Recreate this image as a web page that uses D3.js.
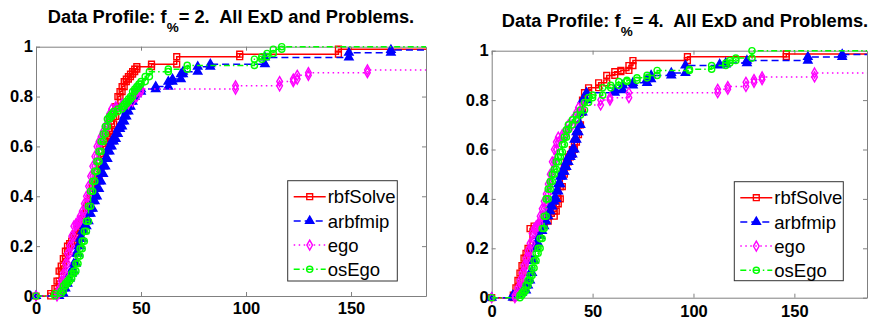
<!DOCTYPE html>
<html>
<head>
<meta charset="utf-8">
<script src="https://cdn.jsdelivr.net/npm/d3@7"></script>
<style>
  body { margin: 0; background: #fff; }
  svg { display: block; }
  text { font-family: "Liberation Sans", Arial, Helvetica, sans-serif; }
</style>
</head>
<body>
<div id="chart"></div>
<script>
// ---- data ----
const seriesNames = ['rbfSolve', 'arbfmip', 'ego', 'osEgo'];
const fValues = ['2', '4'];
const xTicks = [0, 50, 100, 150];
const yTicks = [0, 0.2, 0.4, 0.6, 0.8, 1];
const yTickLabels = ['0', '0.2', '0.4', '0.6', '0.8', '1'];

// f% = 2
const rbfX2 = [0, 7, 9, 10, 11, 12, 13, 14, 15, 16, 17, 18, 19, 20, 21, 22, 23, 24, 25, 26, 27, 28, 29, 30, 31, 32, 33, 34, 35, 36, 37, 38, 39, 40, 41, 42, 43, 44, 45, 46, 47, 48, 55, 67, 97, 144];
const rbfY2 = [0, 0.01, 0.03, 0.06, 0.1, 0.12, 0.15, 0.18, 0.2, 0.21, 0.22, 0.24, 0.25, 0.27, 0.29, 0.31, 0.33, 0.36, 0.38, 0.41, 0.44, 0.46, 0.48, 0.52, 0.56, 0.6, 0.62, 0.64, 0.66, 0.69, 0.72, 0.76, 0.8, 0.82, 0.84, 0.86, 0.87, 0.88, 0.89, 0.9, 0.91, 0.92, 0.93, 0.96, 0.97, 0.99];
const arbX2 = [0, 11, 13, 14, 15, 16, 17, 18, 19, 20, 21, 22, 23, 24, 25, 26, 27, 28, 29, 30, 31, 32, 33, 34, 35, 36, 37, 38, 39, 40, 41, 42, 43, 44, 45, 46, 47, 48, 50, 57, 63, 65, 69, 70, 77, 83, 109, 149, 169];
const arbY2 = [0, 0.01, 0.03, 0.05, 0.07, 0.09, 0.1, 0.13, 0.17, 0.2, 0.23, 0.26, 0.28, 0.3, 0.33, 0.35, 0.38, 0.4, 0.43, 0.46, 0.49, 0.52, 0.55, 0.58, 0.6, 0.62, 0.63, 0.65, 0.67, 0.68, 0.7, 0.72, 0.74, 0.76, 0.78, 0.8, 0.81, 0.82, 0.83, 0.84, 0.86, 0.87, 0.89, 0.9, 0.92, 0.93, 0.957, 0.976, 0.987];
const egoX2 = [0, 10, 11, 12, 13, 14, 15, 16, 17, 18, 19, 20, 21, 22, 23, 24, 25, 26, 27, 28, 29, 30, 31, 32, 33, 34, 35, 36, 38, 41, 44, 46, 48, 50, 95, 116, 122.5, 124.4, 129.7, 157.8];
const egoY2 = [0, 0.01, 0.03, 0.06, 0.09, 0.13, 0.17, 0.2, 0.24, 0.28, 0.29, 0.3, 0.32, 0.34, 0.37, 0.4, 0.44, 0.48, 0.52, 0.56, 0.6, 0.62, 0.64, 0.66, 0.68, 0.71, 0.73, 0.75, 0.76, 0.77, 0.78, 0.8, 0.82, 0.83, 0.843, 0.86, 0.87, 0.885, 0.896, 0.907];
const osX2 = [0, 9, 12, 13, 14, 15, 16, 17, 18, 19, 20, 21, 22, 23, 24, 25, 26, 27, 28, 29, 30, 31, 32, 33, 34, 35, 36, 37, 39, 41, 42, 43, 44, 45, 46, 47, 48, 49, 50, 52, 54, 63, 72, 104, 107.5, 110, 113, 117];
const osY2 = [0, 0.01, 0.02, 0.04, 0.05, 0.06, 0.07, 0.09, 0.1, 0.13, 0.16, 0.19, 0.22, 0.26, 0.3, 0.36, 0.42, 0.46, 0.5, 0.54, 0.58, 0.62, 0.65, 0.68, 0.71, 0.72, 0.73, 0.74, 0.75, 0.76, 0.77, 0.78, 0.79, 0.8, 0.82, 0.83, 0.84, 0.85, 0.86, 0.88, 0.9, 0.91, 0.925, 0.95, 0.96, 0.973, 0.99, 1];

// f% = 4
const rbfX4 = [0, 10.7, 12, 13, 14, 15, 16, 17, 18, 19, 21, 24, 26, 28, 31, 32, 33, 34, 35, 36, 37, 38, 39, 40, 41, 42, 43, 44, 45, 46, 48, 53, 57, 61, 64, 68, 70, 97, 146];
const rbfY4 = [0, 0.01, 0.04, 0.07, 0.1, 0.13, 0.16, 0.18, 0.2, 0.28, 0.29, 0.3, 0.31, 0.33, 0.35, 0.38, 0.4, 0.45, 0.5, 0.53, 0.55, 0.57, 0.58, 0.6, 0.63, 0.66, 0.7, 0.75, 0.8, 0.83, 0.85, 0.87, 0.9, 0.915, 0.92, 0.94, 0.96, 0.976, 0.987];
const arbX4 = [0, 10.5, 13, 15, 17, 18, 19, 20, 21, 22, 23, 24, 25, 26, 27, 28, 29, 30, 31, 32, 33, 34, 35, 36, 37, 38, 39, 40, 41, 42, 43, 44, 45, 47, 61, 65, 70, 77, 79, 89, 96, 113, 116, 126.5, 156.7, 173.7];
const arbY4 = [0, 0.01, 0.02, 0.03, 0.05, 0.07, 0.1, 0.15, 0.2, 0.22, 0.25, 0.27, 0.29, 0.31, 0.33, 0.35, 0.37, 0.39, 0.4, 0.43, 0.46, 0.49, 0.51, 0.53, 0.55, 0.57, 0.58, 0.6, 0.64, 0.67, 0.7, 0.75, 0.8, 0.83, 0.84, 0.86, 0.87, 0.885, 0.9, 0.91, 0.94, 0.945, 0.95, 0.96, 0.975, 0.985];
const egoX4 = [0, 11.5, 13, 14, 15, 16, 17, 18, 19, 20, 21, 22, 23, 24, 25, 26, 27, 28, 29, 30, 31, 32, 33, 35, 37, 38, 40, 42, 43, 45, 54, 58.6, 68, 112, 117, 126, 130, 134, 160];
const egoY4 = [0, 0.01, 0.04, 0.07, 0.1, 0.13, 0.16, 0.19, 0.22, 0.26, 0.28, 0.29, 0.3, 0.33, 0.36, 0.39, 0.42, 0.46, 0.5, 0.55, 0.6, 0.63, 0.65, 0.66, 0.68, 0.7, 0.72, 0.75, 0.77, 0.78, 0.8, 0.81, 0.83, 0.844, 0.855, 0.872, 0.883, 0.894, 0.91];
const osX4 = [0, 14, 15, 16, 17, 18, 19, 20, 21, 22, 23, 24, 25, 26, 27, 28, 29, 30, 31, 32, 33, 34, 35, 36, 37, 38, 40, 42, 44, 46, 48, 50, 55, 59, 63, 67, 72, 77, 82, 98, 109, 116, 118, 121, 129];
const osY4 = [0, 0.01, 0.02, 0.03, 0.05, 0.07, 0.09, 0.12, 0.15, 0.18, 0.2, 0.24, 0.28, 0.33, 0.4, 0.44, 0.47, 0.5, 0.52, 0.55, 0.57, 0.59, 0.62, 0.65, 0.68, 0.7, 0.72, 0.74, 0.76, 0.79, 0.81, 0.82, 0.85, 0.86, 0.875, 0.88, 0.89, 0.9, 0.92, 0.925, 0.94, 0.95, 0.96, 0.97, 1];

// ---- styles ----
const styles = [
  { color: '#ff0000', dash: null, symbol: d3.symbolSquare, size: 34, fill: 'none' },
  { color: '#0000ff', dash: '7,4', symbol: d3.symbolTriangle, size: 30, fill: '#0000ff' },
  { color: '#ff00ff', dash: '1.5,3.5', symbol: d3.symbolDiamond, size: 28, fill: 'none' },
  { color: '#00ff00', dash: '6,3,1.5,3', symbol: d3.symbolCircle, size: 30, fill: 'none' }
];

const panels = [
  { f: fValues[0], left: 36, right: 426, top: 46.7, bottom: 296, xmax: 185.7, titleX: 231, titleY: 22.7, xPad: 6,
    series: [[rbfX2, rbfY2], [arbX2, arbY2], [egoX2, egoY2], [osX2, osY2]],
    legend: { x: 287.7, y: 180.7, w: 109.6, h: 100.3 } },
  { f: fValues[1], left: 491.7, right: 867, top: 50.7, bottom: 297.7, xmax: 186, titleX: 685, titleY: 26.7, xPad: 7.5,
    series: [[rbfX4, rbfY4], [arbX4, arbY4], [egoX4, egoY4], [osX4, osY4]],
    legend: { x: 734.3, y: 181.7, w: 109, h: 99 } }
];

const svg = d3.select('#chart').append('svg').attr('width', 871).attr('height', 323);

panels.forEach(p => {
  const x = d3.scaleLinear().domain([0, p.xmax]).range([p.left, p.right]);
  const y = d3.scaleLinear().domain([0, 1]).range([p.bottom, p.top]);
  const g = svg.append('g');

  // axes (ticks pointing inward, box all round)
  const axisColor = '#808080';
  const bottom = g.append('g').attr('transform', `translate(0,${p.bottom})`)
    .call(d3.axisBottom(x).tickValues(xTicks).tickSize(-4).tickSizeOuter(0).tickPadding(p.xPad));
  const left = g.append('g').attr('transform', `translate(${p.left},0)`)
    .call(d3.axisLeft(y).tickValues(yTicks).tickFormat((d, i) => yTickLabels[i]).tickSize(-4).tickSizeOuter(0).tickPadding(3));
  const top = g.append('g').attr('transform', `translate(0,${p.top})`)
    .call(d3.axisTop(x).tickValues(xTicks).tickSize(-4).tickSizeOuter(0).tickFormat(''));
  const right = g.append('g').attr('transform', `translate(${p.right},0)`)
    .call(d3.axisRight(y).tickValues(yTicks).tickSize(-4).tickSizeOuter(0).tickFormat(''));
  [bottom, left, top, right].forEach(a => {
    a.selectAll('path, line').attr('stroke', axisColor).attr('stroke-width', 1);
    a.selectAll('text').attr('fill', '#000').attr('font-size', 16.5).attr('font-weight', 'bold')
      .style('font-family', '"Liberation Sans", Arial, Helvetica, sans-serif');
  });

  // series
  const line = d3.line().x(d => x(d[0])).y(d => y(d[1])).curve(d3.curveStepAfter);
  p.series.forEach(([xs, ys], si) => {
    const st = styles[si];
    const pts = xs.map((v, i) => [v, ys[i]]);
    pts.push([p.xmax, ys[ys.length - 1]]);
    g.append('path').attr('d', line(pts)).attr('fill', 'none')
      .attr('stroke', st.color).attr('stroke-width', 1.5)
      .attr('stroke-dasharray', st.dash);
    const marks = [];
    xs.forEach((v, i) => {
      if (i > 0) marks.push([v, ys[i - 1]]);
      marks.push([v, ys[i]]);
    });
    g.selectAll(null).data(marks).enter().append('path')
      .attr('d', d3.symbol().type(st.symbol).size(st.size))
      .attr('transform', d => `translate(${x(d[0])},${y(d[1])})`)
      .attr('fill', st.fill).attr('stroke', st.color).attr('stroke-width', 1.4);
  });

  // title
  const t = g.append('text').attr('x', p.titleX).attr('y', p.titleY)
    .attr('text-anchor', 'middle').attr('font-size', 18.3).attr('font-weight', 'bold')
    .style('white-space', 'pre');
  t.append('tspan').text('Data Profile: f');
  t.append('tspan').attr('dy', 9).attr('font-size', 13.5).text('%');
  t.append('tspan').attr('dy', -9).text(`= ${p.f}.  All ExD and Problems.`);

  // legend
  const L = p.legend;
  const lg = g.append('g').attr('transform', `translate(${L.x},${L.y})`);
  lg.append('rect').attr('width', L.w).attr('height', L.h)
    .attr('fill', '#fff').attr('stroke', '#333').attr('stroke-width', 1);
  seriesNames.forEach((name, i) => {
    const st = styles[i];
    const yy = 16 + i * 24.2;
    lg.append('line').attr('x1', 6).attr('x2', 38).attr('y1', yy).attr('y2', yy)
      .attr('stroke', st.color).attr('stroke-width', 1.5).attr('stroke-dasharray', st.dash);
    lg.append('path').attr('d', d3.symbol().type(st.symbol).size(st.size))
      .attr('transform', `translate(22,${yy})`)
      .attr('fill', st.fill).attr('stroke', st.color).attr('stroke-width', 1.4);
    lg.append('text').attr('x', 40).attr('y', yy).attr('dy', '0.36em')
      .attr('font-size', 18.5).attr('fill', '#000').text(name);
  });
});
</script>
</body>
</html>
